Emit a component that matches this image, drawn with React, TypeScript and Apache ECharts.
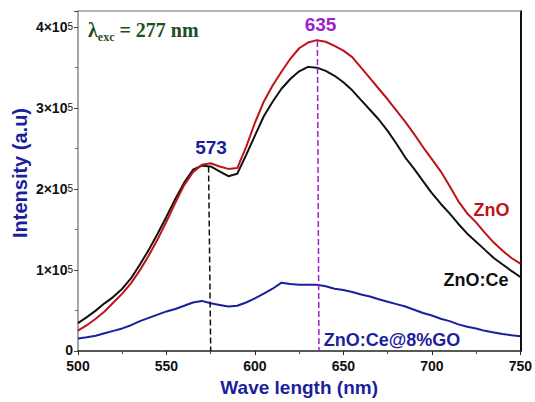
import React, { useEffect, useRef } from "react";
import * as echarts from "echarts";

// Wavelength grid (nm)
const wavelengths: number[] = [
  500, 505, 510, 515, 520, 525, 530, 535, 540, 545, 550, 555, 560, 565, 570, 575, 580, 585, 590, 595,
  600, 605, 610, 615, 620, 625, 630, 635, 640, 645, 650, 655, 660, 665, 670, 675, 680, 685, 690, 695,
  700, 705, 710, 715, 720, 725, 730, 735, 740, 745, 750,
];

// Intensities in units of 10^5
const znO: number[] = [
  0.252, 0.32, 0.4, 0.49, 0.6, 0.71, 0.84, 1.0, 1.18, 1.38, 1.6, 1.83, 2.05, 2.21, 2.3, 2.32, 2.28, 2.25, 2.26, 2.52,
  2.82, 3.08, 3.28, 3.45, 3.61, 3.74, 3.81, 3.84, 3.82, 3.77, 3.71, 3.63, 3.5, 3.37, 3.24, 3.11, 2.97, 2.83, 2.68, 2.52,
  2.37, 2.22, 2.04, 1.85, 1.7, 1.59, 1.46, 1.34, 1.24, 1.15, 1.08,
];
const znOCe: number[] = [
  0.345, 0.42, 0.5, 0.59, 0.67, 0.77, 0.9, 1.07, 1.25, 1.45, 1.66, 1.88, 2.08, 2.24, 2.29, 2.28, 2.22, 2.16, 2.19, 2.42,
  2.66, 2.9, 3.08, 3.24, 3.36, 3.455, 3.51, 3.5, 3.46, 3.4, 3.32, 3.22, 3.1, 2.98, 2.86, 2.72, 2.56, 2.39, 2.25, 2.1,
  1.95, 1.82, 1.7, 1.57, 1.45, 1.35, 1.25, 1.15, 1.07, 0.99, 0.915,
];
const znOCeGO: number[] = [
  0.155, 0.17, 0.19, 0.22, 0.25, 0.28, 0.32, 0.37, 0.41, 0.45, 0.49, 0.52, 0.56, 0.6, 0.62, 0.59, 0.57, 0.55, 0.56, 0.6,
  0.65, 0.71, 0.77, 0.845, 0.83, 0.82, 0.82, 0.82, 0.8, 0.77, 0.755, 0.73, 0.7, 0.675, 0.64, 0.61, 0.58, 0.55, 0.51, 0.47,
  0.44, 0.4, 0.37, 0.33, 0.3, 0.28, 0.25, 0.23, 0.21, 0.195, 0.183,
];

const seriesNames = ["ZnO", "ZnO:Ce", "ZnO:Ce@8%GO"];
const peakLabels = ["573", "635"];
const xTicks = { min: 500, max: 750, interval: 50 };
const yTicks = { min: 0, max: 420000, interval: 100000 };

const BLUE = "#1c1f9c";
const RED = "#c0121a";
const BLACK = "#111111";
const PURPLE = "#9b1fcc";
const GREEN = "#1f4f1f";

const toPairs = (ys: number[]) => wavelengths.map((w, i) => [w, ys[i] * 1e5]);

export default function App() {
  const ref = useRef<HTMLDivElement>(null);
  useEffect(() => {
    if (!ref.current) return;
    const chart = echarts.init(ref.current, null, { renderer: "svg" });
    const font = "Liberation Sans, Arial, sans-serif";
    const serif = "Liberation Serif, Times New Roman, serif";
    const option: any = {
      animation: false,
      grid: { left: 78, right: 13, top: 11, bottom: 47 },
      xAxis: [
        {
          type: "value",
          min: xTicks.min,
          max: xTicks.max,
          interval: xTicks.interval,
          name: "Wave length (nm)",
          nameLocation: "middle",
          nameGap: 23,
          nameTextStyle: { color: BLUE, fontSize: 19, fontWeight: "bold", fontFamily: font },
          axisLine: { show: true, lineStyle: { color: "#222", width: 1.5 } },
          axisTick: { show: true, length: 4, lineStyle: { color: "#222" } },
          minorTick: { show: true, splitNumber: 2, length: 3, lineStyle: { color: "#444" } },
          axisLabel: { color: "#111", fontSize: 14, fontWeight: "bold", fontFamily: font, margin: 8, lineHeight: 14 },
          splitLine: { show: false },
        },
        {
          type: "value",
          position: "top",
          min: xTicks.min,
          max: xTicks.max,
          axisLine: { show: true, onZero: false, lineStyle: { color: "#999", width: 1.5 } },
          axisTick: { show: false },
          axisLabel: { show: false },
          splitLine: { show: false },
        },
      ],
      yAxis: [
        {
          type: "value",
          min: yTicks.min,
          max: yTicks.max,
          interval: yTicks.interval,
          axisLine: { show: true, lineStyle: { color: "#888", width: 1.5 } },
          axisTick: { show: true, length: 4, lineStyle: { color: "#444" } },
          minorTick: { show: true, splitNumber: 2, length: 3, lineStyle: { color: "#666" } },
          axisLabel: {
            margin: 5,
            formatter: (v: number) => {
              if (v === 0) return "{z|0}";
              if (v % 100000 !== 0) return "";
              return `{b|${v / 100000}×10}{s|5}`;
            },
            rich: {
              z: { color: "#111", fontSize: 14, fontWeight: "bold", fontFamily: font, lineHeight: 10, padding: [0, 0, 3, 0] },
              b: { color: "#111", fontSize: 14, fontWeight: "bold", fontFamily: font, verticalAlign: "middle", lineHeight: 12 },
              s: { color: "#111", fontSize: 10, fontFamily: font, verticalAlign: "top", lineHeight: 12 },
            },
          },
          splitLine: { show: false },
        },
        {
          type: "value",
          position: "right",
          min: yTicks.min,
          max: yTicks.max,
          axisLine: { show: true, onZero: false, lineStyle: { color: "#111", width: 2 } },
          axisTick: { show: false },
          axisLabel: { show: false },
          splitLine: { show: false },
        },
      ],
      series: [
        {
          name: seriesNames[2],
          type: "line",
          data: toPairs(znOCeGO),
          showSymbol: false,
          lineStyle: { color: BLUE, width: 2 },
          itemStyle: { color: BLUE },
        },
        {
          name: seriesNames[1],
          type: "line",
          data: toPairs(znOCe),
          showSymbol: false,
          lineStyle: { color: BLACK, width: 2 },
          itemStyle: { color: BLACK },
          markLine: {
            silent: true,
            symbol: "none",
            label: { show: false },
            lineStyle: { color: "#111", type: "dashed", width: 1.5 },
            data: [[{ coord: [573.8, 228000] }, { coord: [575, 0] }]],
          },
        },
        {
          name: seriesNames[0],
          type: "line",
          data: toPairs(znO),
          showSymbol: false,
          lineStyle: { color: RED, width: 2 },
          itemStyle: { color: RED },
          markLine: {
            silent: true,
            symbol: "none",
            label: { show: false },
            lineStyle: { color: PURPLE, type: "dashed", width: 1.5 },
            data: [[{ coord: [635.3, 383000] }, { coord: [636.2, 0] }]],
          },
        },
      ],
      graphic: [
        {
          type: "text",
          x: 20,
          y: 173,
          rotation: Math.PI / 2,
          style: {
            text: "Intensity (a.u)",
            fill: BLUE,
            fontSize: 20,
            fontWeight: "bold",
            fontFamily: font,
            align: "center",
            verticalAlign: "middle",
          },
        },
        {
          type: "text",
          left: 88,
          top: 20,
          style: {
            text: "{a|λ}{s|exc}{a| = 277 nm}",
            rich: {
              a: { fontFamily: serif, fontWeight: "bold", fontSize: 20, fill: GREEN, verticalAlign: "middle", lineHeight: 26 },
              s: { fontFamily: serif, fontWeight: "bold", fontSize: 12, fill: GREEN, verticalAlign: "bottom", lineHeight: 26 },
            },
          },
        },
        {
          type: "text",
          x: 211,
          y: 147,
          style: { text: peakLabels[0], fill: BLUE, fontSize: 19, fontWeight: "bold", fontFamily: font, align: "center", verticalAlign: "middle" },
        },
        {
          type: "text",
          x: 320.5,
          y: 24.5,
          style: { text: peakLabels[1], fill: PURPLE, fontSize: 19, fontWeight: "bold", fontFamily: font, align: "center", verticalAlign: "middle" },
        },
        {
          type: "text",
          x: 491.5,
          y: 210,
          style: { text: seriesNames[0], fill: RED, fontSize: 18, fontWeight: "bold", fontFamily: font, align: "center", verticalAlign: "middle" },
        },
        {
          type: "text",
          x: 476,
          y: 280,
          style: { text: seriesNames[1], fill: BLACK, fontSize: 18, fontWeight: "bold", fontFamily: font, align: "center", verticalAlign: "middle" },
        },
        {
          type: "text",
          x: 392,
          y: 340,
          style: { text: seriesNames[2], fill: BLUE, fontSize: 18, fontWeight: "bold", fontFamily: font, align: "center", verticalAlign: "middle" },
        },
      ],
    };
    chart.setOption(option);
    return () => chart.dispose();
  }, []);
  return (
    <div
      ref={ref}
      style={{ position: "absolute", left: 0, top: 0, width: 535, height: 402, background: "#fff" }}
    />
  );
}
